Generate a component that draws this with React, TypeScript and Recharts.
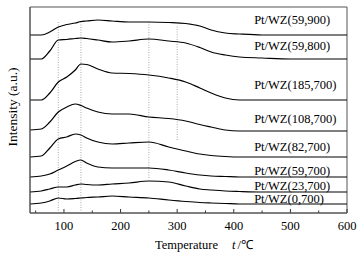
import { LineChart, Line, XAxis, YAxis, ReferenceLine, ReferenceDot, ReferenceArea } from 'recharts';

// temperature grid (°C) the curves were read at
const temps = [40, 60, 75, 90, 105, 120, 130, 140, 160, 185, 215, 250, 285, 315, 340, 360, 385, 410, 450, 500, 600];

// intensity (a.u.), curves already stacked with their offsets
const pt59_900 = [178, 178, 181, 186, 188.5, 190, 191.5, 192, 193, 192, 191, 191, 190.5, 189.5, 187, 183, 180, 179, 178, 178, 178];
const pt59_800 = [154, 154, 162, 173, 173.5, 174.5, 175, 174.5, 173, 171, 172, 174, 172, 170, 165.5, 161, 158, 156, 155, 154, 154];
const pt185_700 = [113, 113, 120, 131, 136, 143, 149, 148.5, 144, 140, 139.5, 138, 135, 131, 125, 120, 115, 113, 113, 113, 113];
const pt108_700 = [83, 84, 91, 101, 106, 109, 107.5, 105, 101, 99, 99, 96, 94.5, 92, 88.5, 86, 83, 82, 82, 82, 82];
const pt82_700 = [56, 57, 65, 74, 76, 79, 78, 75, 71, 69, 70, 71, 66, 62, 59, 57.5, 56.5, 56, 56, 56, 56];
const pt59_700 = [36, 37, 39, 43, 47, 51.5, 53, 50, 46, 45, 45, 45, 43, 40, 38, 37, 36.5, 36, 36, 36, 36];
const pt23_700 = [21, 22, 24, 26, 26, 28, 29, 28.5, 28, 29, 30, 32, 31, 27, 24, 23, 22, 21.5, 21, 21, 21];
const pt0_700 = [9, 10, 12, 15, 14, 14.5, 15, 15.5, 16, 17, 16, 15, 13, 11.5, 10.5, 10, 9.5, 9, 9, 9, 9];

const seriesNames = ['Pt/WZ(59,900)', 'Pt/WZ(59,800)', 'Pt/WZ(185,700)', 'Pt/WZ(108,700)', 'Pt/WZ(82,700)', 'Pt/WZ(59,700)', 'Pt/WZ(23,700)', 'Pt/WZ(0,700)'];
const seriesValues = [pt59_900, pt59_800, pt185_700, pt108_700, pt82_700, pt59_700, pt23_700, pt0_700];

const majorTicks = [100, 200, 300, 400, 500, 600];
const minorTicks = [50, 150, 250, 350, 450, 550];
const peakTemps = [90, 130, 250, 300];

const rows = temps.map((t, i) => {
  const row: Record<string, number> = { t };
  seriesValues.forEach((vals, k) => {
    row['s' + k] = vals[i];
  });
  return row;
});

const FONT = '"Liberation Serif", "Times New Roman", serif';

export default function App() {
  // how far each name sits above its curve's tail, and the extent of the dotted guides
  const labelLift = [11, 9, 11, 8, 6, 2, 2, 1];
  const guideSpan = [[0, 191], [0, 191], [35, 191], [73, 188]];

  return (
    <div style={{ position: 'absolute', left: 0, top: 0, background: '#fff' }}>
      <LineChart width={364} height={256} data={rows} margin={{ top: 7, right: 17, left: 0, bottom: 0 }}>
        <XAxis
          dataKey="t"
          type="number"
          domain={[40, 600]}
          ticks={majorTicks}
          allowDataOverflow
          height={43}
          tickLine={false}
          tickSize={0}
          tickMargin={8}
          axisLine={{ stroke: '#555' }}
          tick={{ fontSize: 12.5, fill: '#000', fontFamily: FONT }}
          label={{
            content: () => (
              <text x={155} y={249} textAnchor="start" fontSize={12.5} fontFamily={FONT} fill="#000">
                Temperature<tspan dx={14} fontStyle="italic">t</tspan>
                <tspan dx={2}>/℃</tspan>
              </text>
            ),
          }}
        />
        <YAxis
          type="number"
          domain={[0, 206]}
          width={30}
          tick={false}
          tickLine={false}
          axisLine={{ stroke: '#555' }}
          label={{
            content: () => (
              <text transform="translate(16.5,107) rotate(-90)" textAnchor="middle" fontSize={13.5} fontFamily={FONT} fill="#000">
                Intensity (a.u.)
              </text>
            ),
          }}
        />
        <ReferenceArea x1={40} x2={600} y1={0} y2={206} fill="none" stroke="#555" strokeWidth={1} />
        {peakTemps.map((t, i) => (
          <ReferenceLine
            key={'g' + t}
            segment={[{ x: t, y: guideSpan[i][0] }, { x: t, y: guideSpan[i][1] }]}
            stroke="#aaa"
            strokeDasharray="1 1.5"
          />
        ))}
        {majorTicks.map((t) => (
          <ReferenceLine key={'M' + t} segment={[{ x: t, y: 0 }, { x: t, y: 4 }]} stroke="#333" />
        ))}
        {minorTicks.map((t) => (
          <ReferenceLine key={'m' + t} segment={[{ x: t, y: 0 }, { x: t, y: 2.5 }]} stroke="#333" />
        ))}
        {seriesValues.map((vals, k) => (
          <Line
            key={seriesNames[k]}
            dataKey={'s' + k}
            type="monotone"
            stroke="#000"
            strokeWidth={1.2}
            dot={false}
            isAnimationActive={false}
          />
        ))}
        {seriesValues.map((vals, k) => (
          <ReferenceDot
            key={'l' + k}
            x={436}
            y={vals[vals.length - 1] + labelLift[k]}
            r={0}
            shape={(p: any) => (
              <text x={p.cx} y={p.cy} fontSize={12.5} fontFamily={FONT} fill="#000">
                {seriesNames[k]}
              </text>
            )}
          />
        ))}
      </LineChart>
    </div>
  );
}
